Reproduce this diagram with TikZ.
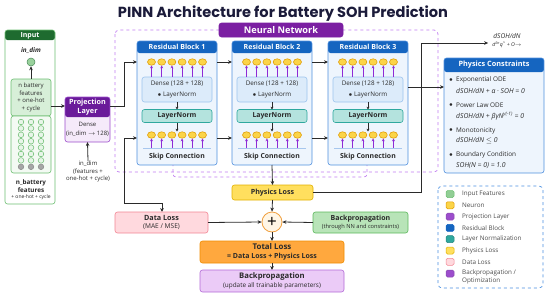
\documentclass[tikz,border=0pt]{standalone}
\usepackage{fontspec}
\setmainfont{Open Sans}
\newfontfamily\titlefont{Poppins}
\usetikzlibrary{arrows.meta,shapes.geometric,positioning,calc}
\definecolor{TitleInk}{HTML}{1B1B3A}
\definecolor{InGreen}{HTML}{1E6B2F}
\definecolor{InLine}{HTML}{6DBE72}
\definecolor{InFill}{HTML}{F3FAF3}
\definecolor{InInner}{HTML}{D7EFD8}
\definecolor{ProjPurple}{HTML}{6A1B9A}
\definecolor{ProjFill}{HTML}{F5EAFA}
\definecolor{ProjLine}{HTML}{9C4DCC}
\definecolor{NNDash}{HTML}{C07CF0}
\definecolor{NNLabel}{HTML}{7B1FA2}
\definecolor{ResBlue}{HTML}{1565C0}
\definecolor{ResLine}{HTML}{4F8FDD}
\definecolor{ResFill}{HTML}{EEF5FD}
\definecolor{DenseFill}{HTML}{DCEBFA}
\definecolor{DenseLine}{HTML}{9CC4EE}
\definecolor{NormFill}{HTML}{B4E3DE}
\definecolor{NormLine}{HTML}{2FA89E}
\definecolor{NeuronFill}{HTML}{FBD448}
\definecolor{NeuronLine}{HTML}{E09A00}
\definecolor{ArrowPurple}{HTML}{8E2BD6}
\definecolor{PhysFill}{HTML}{FFDF5E}
\definecolor{PhysLine}{HTML}{E2B000}
\definecolor{DataFill}{HTML}{FFD9DE}
\definecolor{DataLine}{HTML}{F28694}
\definecolor{BackFill}{HTML}{B8E4B8}
\definecolor{BackLine}{HTML}{5DB85D}
\definecolor{TotalFill}{HTML}{FFA83E}
\definecolor{TotalLine}{HTML}{F08C00}
\definecolor{OptFill}{HTML}{EBCBF7}
\definecolor{OptLine}{HTML}{B36AD6}
\definecolor{PlusFill}{HTML}{FFF6E6}
\definecolor{PlusLine}{HTML}{F0A040}
\definecolor{LegLine}{HTML}{4A8FE0}
\definecolor{SepLine}{HTML}{B8D4F0}
\definecolor{Ink}{HTML}{2A2A2A}

\begin{document}
\begin{tikzpicture}[x=1pt,y=-1pt,>={Stealth[length=4pt,width=3.6pt]},
  arr/.style={->,line width=0.8pt,draw=Ink},
  short/.style={->,line width=0.6pt,draw=Ink,>={Stealth[length=2.8pt,width=2.8pt]}},
  parr/.style={->,line width=0.7pt,draw=ArrowPurple,>={Stealth[length=2.8pt,width=2.8pt]}},
  box/.style={draw,rounded corners=2.5pt,inner sep=0pt,outer sep=0pt,line width=0.6pt,align=center,text=Ink},
  headed/.style 2 args={box,path picture={\fill[#1] (path picture bounding box.north west) rectangle ([yshift=-#2]path picture bounding box.north east);}},
  hdr/.style={font=\bfseries\fontsize{7}{8.6}\selectfont,text=white,inner sep=0pt,align=center},
  txt/.style={font=\fontsize{6.4}{7.6}\selectfont,text=Ink,inner sep=0pt,align=center},
  btxt/.style={font=\bfseries\fontsize{6.9}{7.6}\selectfont,text=Ink,inner sep=0pt,align=center},
  neuron/.style={ellipse,draw=NeuronLine,fill=NeuronFill,line width=0.5pt,minimum width=8pt,minimum height=6.5pt,inner sep=0pt},
  gcell/.style={circle,draw=InLine,fill=InInner!60,line width=0.5pt,minimum size=5.6pt,inner sep=0pt},
  swatch/.style={draw,rounded corners=1.5pt,minimum width=8pt,minimum height=7pt,inner sep=0pt,line width=0.5pt},
  legtxt/.style={font=\fontsize{6.3}{7.6}\selectfont,text=Ink!85,inner sep=0pt,anchor=west,align=left},
  ftxt/.style={font=\itshape\fontsize{6.8}{7}\selectfont,text=Ink,inner sep=0pt,anchor=west}]
\useasboundingbox (0,0) rectangle (550,298);

\node[font=\titlefont\bfseries\fontsize{14.6}{16}\selectfont,text=TitleInk] (title) at (283,14) {PINN Architecture for Battery SOH Prediction};

% input column
\node[headed={InGreen}{10pt},draw=InLine,fill=white,minimum width=50pt,minimum height=174pt,anchor=north west] (inbox) at (5,30) {};
\node[hdr] (inhdr) at (30,35.5) {Input};
\node[font=\bfseries\itshape\fontsize{6.4}{7}\selectfont,text=Ink,inner sep=0pt] (indimtop) at (31,51) {in\_dim};
\node[circle,draw=InGreen!80,fill=InLine!70,line width=0.5pt,minimum size=8pt,inner sep=0pt] (indim) at (31,62) {};
\node[box,draw=InLine,fill=InInner,minimum width=40pt,minimum height=37pt,anchor=north west,font=\fontsize{6}{7.6}\selectfont] (feat) at (11,79) {n battery\\features\\+ one-hot\\+ cycle};
\node[box,draw=InLine,fill=InFill,minimum width=40pt,minimum height=57pt,anchor=north west] (grid) at (11,116) {};
\foreach \c in {0,1,2}{
  \foreach \r in {0,...,6}
    \node[gcell] (g\c\r) at (21+\c*10,122+\r*6.4) {};
  \node[gcell,draw=black!45,fill=black!35] (g\c7) at (21+\c*10,122+7*6.4) {};
}
\node[btxt,font=\bfseries\fontsize{6.3}{7.8}\selectfont] (nbat) at (31,186) {n\_battery\\features};
\node[txt,font=\fontsize{5}{5}\selectfont] (nbatx) at (31,197.5) {+ one-hot + cycle};
\draw[arr] (feat.north) -- (indim.south);

% projection layer
\node[headed={ProjPurple}{20pt},draw=ProjLine,fill=ProjFill,minimum width=45pt,minimum height=45pt,anchor=north west] (proj) at (65,97) {};
\node[hdr,font=\bfseries\fontsize{7.2}{8.8}\selectfont] (projh) at (87.5,107) {Projection\\Layer};
\node[txt,font=\fontsize{6}{8.4}\selectfont] (projd) at (87.5,129.5) {Dense\\(in\_dim $\to$ 128)};
\node[txt,font=\fontsize{6}{7.4}\selectfont] (indimtxt) at (88,171.5) {in\_dim\\(features +\\one-hot + cycle)};
\coordinate (py) at (0,106);
\draw[arr] (feat.east |- py) -- (proj.west |- py);
\draw[arr] (indimtxt.north) -- (proj.south);

% neural network region
\draw[NNDash,dashed,line width=0.7pt,rounded corners=4pt] (115,30) rectangle (438,172);
\draw[NNDash,dashed,line width=0.7pt,rounded corners=3pt] (173,163) -- (173,177) -- (367,177) -- (367,163);
\node[box,draw=NNLabel,fill=NNLabel,minimum width=124pt,minimum height=14pt,text=white,font=\bfseries\fontsize{9.2}{9}\selectfont,anchor=north west] (nnlabel) at (219,23) {Neural Network};

\coordinate (r1) at (0,62);
\coordinate (r2) at (0,138);
\coordinate (r3) at (0,87);
\foreach \b/\bx in {1/137,2/232,3/328}{
  \node[headed={ResBlue}{12pt},draw=ResLine,fill=ResFill,minimum width=80pt,minimum height=124pt,anchor=north west] (b\b) at (\bx,41) {};
  \node[hdr] (b\b h) at (\bx+40,47) {Residual Block \b};
  \node[box,draw=DenseLine,fill=DenseFill,minimum width=70pt,minimum height=25pt,font=\fontsize{6.3}{11}\selectfont] (d\b) at (\bx+40,89.5) {Dense (128 + 128)\\$\bullet$ LayerNorm};
  \node[box,draw=NormLine,fill=NormFill,minimum width=70pt,minimum height=13pt,font=\bfseries\fontsize{6.9}{7}\selectfont] (ln\b) at (\bx+40,116) {LayerNorm};
  \draw[ResLine!50,line width=0.5pt] (\bx+6,148) -- (\bx+74,148);
  \node[btxt] (sk\b) at (\bx+40,156.5) {Skip Connection};
  \foreach \i in {0,...,5}{
    \node[neuron] (n\b-\i) at (\bx+14.5+\i*10.2,62) {};
    \node[neuron] (m\b-\i) at (\bx+14.5+\i*10.2,135) {};
    \draw[parr] (d\b.north -| n\b-\i) -- (n\b-\i.south);
    \draw[parr] ([yshift=-9pt]m\b-\i.south) -- (m\b-\i.south);
  }
  \draw[short] (d\b.south) -- (ln\b.north);
  \draw[short] (ln\b.south) -- (ln\b.south |- m\b-0.north);
}
\coordinate (jx) at (124,106);
\coordinate (jd) at (124,203);
\draw[arr] (proj.east |- jx) -- (jx) |- (b1.west |- r1);
\draw[arr,<->] (b1.west |- r2) -| (jd) -| (162,212);
\foreach \a/\c in {1/2,2/3}{
  \draw[arr] (b\a.east |- r1) -- (b\c.west |- r1);
  \draw[arr] (b\a.east |- r2) -- (b\c.west |- r2);
}

% physics constraints
\node[headed={ResBlue}{14pt},draw=ResLine,fill=ResFill,minimum width=100pt,minimum height=115pt,anchor=north west] (pc) at (444,58) {};
\node[hdr,font=\bfseries\fontsize{7.3}{8}\selectfont] (pch) at (494,65) {Physics Constraints};
\foreach \y/\t/\f in {80/Exponential ODE/{dSOH/dN + α · SOH = 0},
    105.5/Power Law ODE/{dSOH/dN + βγN\textsuperscript{γ(-1)} = 0},
    130.5/Monotonicity/{dSOH/dN $\leq$ 0},
    155/Boundary Condition/{SOH(N = 0) = 1.0}}{
  \node[txt] at (451,\y) {$\bullet$};
  \node[txt,anchor=west] at (456,\y) {\t};
  \node[ftxt] at (456,\y+10.5) {\f};
}
\draw[arr] (b3.east |- r3) -- (pc.west |- r3);

% losses
\node[box,draw=PhysLine,fill=PhysFill,minimum width=81pt,minimum height=15pt,font=\bfseries\fontsize{7.1}{7}\selectfont] (ploss) at (272.5,192.5) {Physics Loss};
\node[circle,draw=PlusLine,fill=PlusFill,line width=0.8pt,minimum size=20pt,inner sep=0pt,font=\fontsize{17}{17}\selectfont] (plus) at (272,222) {+};
\node[box,draw=DataLine,fill=DataFill,minimum width=93pt,minimum height=21pt,font=\fontsize{6.6}{8.4}\selectfont] (dloss) at (161.5,222.5) {\textbf{\fontsize{7.2}{8.4}\selectfont Data Loss}\\(MAE / MSE)};
\node[box,draw=BackLine,fill=BackFill,minimum width=95pt,minimum height=21pt,font=\fontsize{5.7}{8.4}\selectfont] (back) at (360.5,222.5) {\textbf{\fontsize{7}{8.4}\selectfont Backpropagation}\\(through NN and constraints)};
\node[box,draw=TotalLine,fill=TotalFill,minimum width=144pt,minimum height=22pt,font=\bfseries\fontsize{7}{8.8}\selectfont] (total) at (272,252) {{\fontsize{7.9}{8.8}\selectfont Total Loss}\\= Data Loss + Physics Loss};
\node[box,draw=OptLine,fill=OptFill,minimum width=144pt,minimum height=22pt,font=\fontsize{6.4}{8.8}\selectfont] (opt) at (272,281) {\textbf{\fontsize{7.7}{8.8}\selectfont Backpropagation}\\(update all trainable parameters)};
\node[font=\itshape\fontsize{6.6}{8}\selectfont,text=Ink,inner sep=0pt,align=center] (out) at (507,40.5) {dSOH/dN\\{\fontsize{5.2}{6}\selectfont d\textsuperscript{2n}q\textsuperscript{*} + O$\to$}};
\coordinate (oy) at (421,43);
\draw[arr] (b2.south) -- (ploss.north);
\draw[arr] (ploss.east) -| (oy) -- ([xshift=-4pt]out.west |- oy);
\draw[arr] (ploss.south) -- (plus.north);
\draw[arr] (dloss.east) -- (plus.west);
\draw[arr] (back.west) -- (plus.east);
\draw[arr] (plus.south) -- (total.north);
\draw[arr] (total.south) -- (opt.north);

% legend
\draw[LegLine,dashed,line width=0.7pt,rounded corners=4pt] (438,186) rectangle (543,288);
\foreach \k/\fc/\dc/\t in {0/InLine!75/InLine/Input Features,
    1/NeuronFill/NeuronLine/Neuron,
    2/ProjLine/ProjPurple!80/Projection Layer,
    3/ResBlue/ResBlue/Residual Block,
    4/NormLine/NormLine!80!black/Layer Normalization,
    5/PhysFill/PhysLine/Physics Loss,
    6/DataFill/DataLine/Data Loss}{
  \node[swatch,fill=\fc,draw=\dc] (sw\k) at (450,194+\k*11.3) {};
  \node[legtxt] (lt\k) at (462,194+\k*11.3) {\t};
}
\node[swatch,fill=ProjLine,draw=ProjPurple!80] (sw7) at (450,273.5) {};
\node[legtxt,anchor=north west] (lt7) at (462,270) {Backpropagation /\\Optimization};
\end{tikzpicture}
\end{document}
